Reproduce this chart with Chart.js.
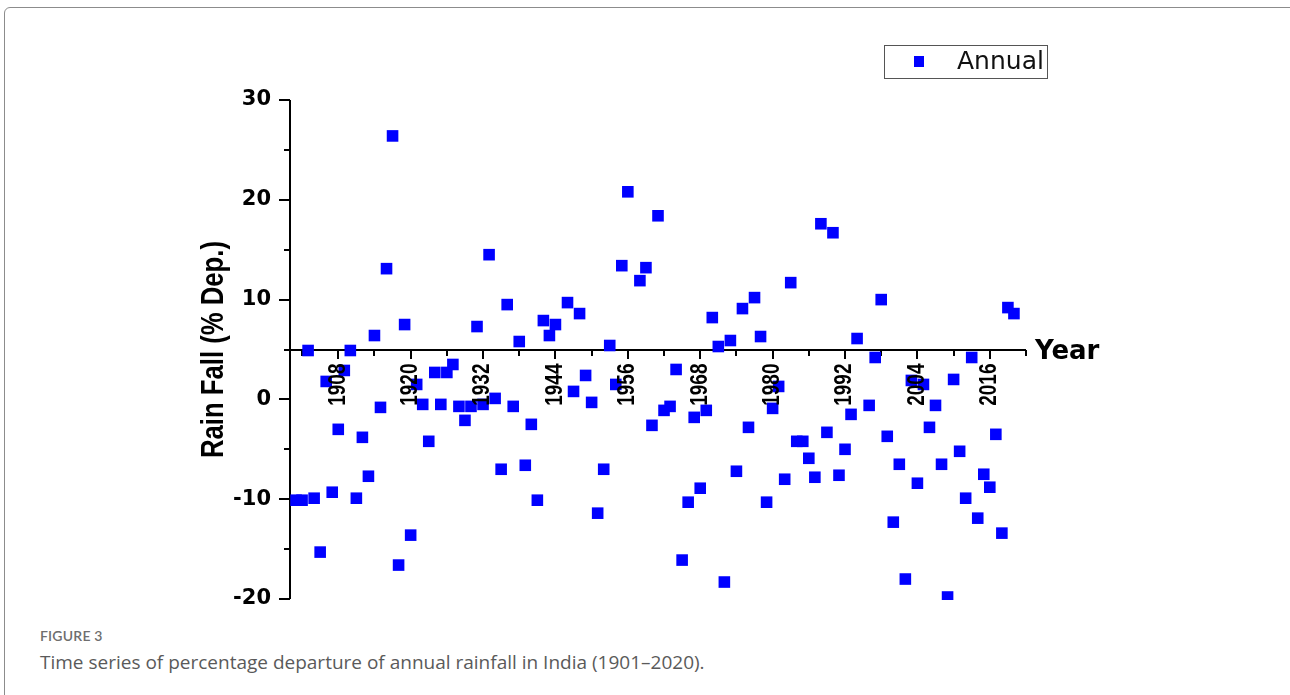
<!DOCTYPE html>
<html>
<head>
<meta charset="utf-8">
<title>Annual rainfall departure, India 1901–2020</title>
<script src="https://cdn.jsdelivr.net/npm/chart.js@4.4.1/dist/chart.umd.min.js"></script>
<style>
  html, body { margin: 0; padding: 0; background: #fff; width: 1290px; height: 695px; overflow: hidden; }
  .frame { position: absolute; left: 4px; top: 7px; width: 1400px; height: 800px;
           border: 1px solid #8c8c8c; border-radius: 6px; box-sizing: border-box; }
  #wrap { position: absolute; left: 0; top: 0; width: 1290px; height: 615px; }
  .fig-label { position: absolute; left: 40px; top: 627px; font: 600 14px Lato, "Open Sans", sans-serif;
               color: #6e6e6e; letter-spacing: 0.2px; }
  .fig-caption { position: absolute; left: 40px; top: 649px; font: 400 19px "Open Sans", Lato, sans-serif;
                 color: #5a5a5a; }
</style>
</head>
<body>
<div class="frame"></div>
<div id="wrap"><canvas id="rain"></canvas></div>
<div class="fig-label">FIGURE 3</div>
<div class="fig-caption">Time series of percentage departure of annual rainfall in India (1901–2020).</div>

<script>
// Years plotted (a few years have no mark on the plot)
const years = [
  1901, 1902, 1903, 1904, 1905, 1906, 1907, 1908, 1909, 1910,
  1911, 1912, 1913, 1914, 1915, 1916, 1917, 1918, 1919, 1920,
  1921, 1922, 1923, 1924, 1925, 1926, 1927, 1928, 1929, 1930,
  1931, 1932, 1933, 1934, 1935, 1936, 1937, 1938, 1939, 1940,
  1941, 1942, 1943, 1944, 1946, 1947, 1948, 1949, 1950,
  1951, 1952, 1953, 1954, 1955, 1956, 1958, 1959, 1960,
  1961, 1962, 1963, 1964, 1965, 1966, 1967, 1968, 1969, 1970,
  1971, 1972, 1973, 1974, 1975, 1976, 1977, 1978, 1979, 1980,
  1981, 1982, 1983, 1984, 1985, 1986, 1987, 1988, 1989, 1990,
  1991, 1992, 1993, 1994, 1996, 1997, 1998, 1999, 2000,
  2001, 2002, 2003, 2004, 2005, 2006, 2007, 2008, 2009, 2010,
  2011, 2012, 2013, 2014, 2015, 2016, 2017, 2018, 2019, 2020
];

// Annual rainfall, % departure from normal
const annualDeparture = [
  -10.1, -10.1,  4.9,  -9.9, -15.3,  1.8,  -9.3,  -3.0,   2.9,   4.9,
   -9.9,  -3.8, -7.7,   6.4,  -0.8, 13.1,  26.4, -16.6,   7.5, -13.6,
    1.5,  -0.5, -4.2,   2.7,  -0.5,  2.7,   3.5,  -0.7,  -2.1,  -0.7,
    7.3,  -0.5, 14.5,   0.1,  -7.0,  9.5,  -0.7,   5.8,  -6.6,  -2.5,
  -10.1,   7.9,  6.4,   7.5,   9.7,  0.8,   8.6,   2.4,  -0.3,
  -11.4,  -7.0,  5.4,   1.5,  13.4, 20.8,  11.9,  13.2,  -2.6,
   18.4,  -1.1, -0.7,   3.0, -16.1, -10.3, -1.8,  -8.9,  -1.1,   8.2,
    5.3, -18.3,  5.9,  -7.2,   9.1,  -2.8, 10.2,   6.3, -10.3,  -0.9,
    1.3,  -8.0, 11.7,  -4.2,  -4.2,  -5.9, -7.8,  17.6,  -3.3,  16.7,
   -7.6,  -5.0, -1.5,   6.1,  -0.6,   4.2, 10.0,  -3.7, -12.3,
   -6.5, -18.0,  1.9,  -8.4,   1.5,  -2.8, -0.6,  -6.5, -19.8,   2.0,
   -5.2,  -9.9,  4.2, -11.9,  -7.5,  -8.8, -3.5, -13.4,   9.2,   8.6
];

// Axis ticks and labels
const xTickYears  = [1902, 1908, 1914, 1920, 1926, 1932, 1938, 1944, 1950, 1956, 1962,
                     1968, 1974, 1980, 1986, 1992, 1998, 2004, 2010, 2016, 2022];
const xLabelYears = [1908, 1920, 1932, 1944, 1956, 1968, 1980, 1992, 2004, 2016];
const yLabelValues = [-20, -10, 0, 10, 20, 30];
const xAxisCrossing = 5;   // the year axis crosses the value axis here

const seriesName = 'Annual';
const markColor = '#0000ff';
const boldSans = '"Liberation Sans", Arial, sans-serif';
const wideFont = '"DejaVu Sans", sans-serif';
const glyphWiden = 1.22;   // rotated texts use slightly widened glyphs

// Axis lines, tick marks, year labels, axis names and the boxed key
const axesAndKey = {
  id: 'axesAndKey',
  beforeDatasetsDraw(chart) {
    const { ctx, chartArea: a, scales: { x, y } } = chart;
    ctx.save();
    ctx.strokeStyle = '#000';
    ctx.lineWidth = 2;
    ctx.beginPath();
    // value axis
    ctx.moveTo(a.left, a.top);
    ctx.lineTo(a.left, a.bottom);
    for (const t of y.ticks) {
      const py = Math.round(y.getPixelForValue(t.value));
      const len = yLabelValues.includes(t.value) ? 11 : 6;
      ctx.moveTo(a.left, py);
      ctx.lineTo(a.left - len, py);
    }
    // year axis
    const pY = Math.round(y.getPixelForValue(xAxisCrossing));
    ctx.moveTo(a.left, pY);
    ctx.lineTo(a.right, pY);
    for (const v of xTickYears) {
      const px = Math.round(x.getPixelForValue(v));
      const len = xLabelYears.includes(v) ? 9 : 6;
      ctx.moveTo(px, pY);
      ctx.lineTo(px, pY + len);
    }
    ctx.stroke();
    ctx.restore();
  },
  afterDraw(chart) {
    const { ctx, chartArea: a, scales: { x, y } } = chart;
    const pY = y.getPixelForValue(xAxisCrossing);
    ctx.save();
    ctx.fillStyle = '#000';

    // year labels, reading upwards, hanging below the axis
    ctx.font = 'bold 19px ' + boldSans;
    ctx.textAlign = 'right';
    ctx.textBaseline = 'middle';
    for (const v of xLabelYears) {
      ctx.save();
      ctx.translate(x.getPixelForValue(v), pY + 14);
      ctx.rotate(-Math.PI / 2);
      ctx.scale(1, glyphWiden);
      ctx.fillText(String(v), 0, 0);
      ctx.restore();
    }

    // year axis name at the end of the axis line
    ctx.font = 'bold 26px ' + wideFont;
    ctx.textAlign = 'left';
    ctx.fillText('Year', a.right + 9, pY + 3);

    // value axis name
    ctx.save();
    ctx.translate(214, (a.top + a.bottom) / 2);
    ctx.rotate(-Math.PI / 2);
    ctx.scale(1, glyphWiden);
    ctx.textAlign = 'center';
    ctx.font = 'bold 25.7px ' + boldSans;
    ctx.fillText('Rain Fall (% Dep.)', 0, 0);
    ctx.restore();

    // key box
    ctx.strokeStyle = '#555';
    ctx.lineWidth = 1;
    ctx.strokeRect(884.5, 45.5, 163, 33);
    ctx.fillStyle = markColor;
    ctx.fillRect(914, 56, 10, 11);
    ctx.fillStyle = '#111';
    ctx.font = '25px ' + wideFont;
    ctx.textAlign = 'left';
    ctx.textBaseline = 'middle';
    ctx.fillText(chart.data.datasets[0].label, 957, 62);
    ctx.restore();
  }
};

new Chart(document.getElementById('rain'), {
  type: 'scatter',
  data: {
    datasets: [{
      label: seriesName,
      data: years.map((yr, i) => ({ x: yr, y: annualDeparture[i] })),
      pointStyle: 'rect',
      pointRadius: 8.2,
      pointHoverRadius: 8.2,
      backgroundColor: markColor,
      borderWidth: 0,
      clip: { left: 10, top: 10, right: 10, bottom: 1 }
    }]
  },
  options: {
    responsive: true,
    maintainAspectRatio: false,
    animation: false,
    events: [],
    layout: { padding: { left: 0, top: 100, right: 264, bottom: 16 } },
    plugins: { legend: { display: false }, tooltip: { enabled: false } },
    scales: {
      x: {
        type: 'linear',
        min: 1900,
        max: 2022,
        position: { y: xAxisCrossing },
        afterBuildTicks: s => { s.ticks = xTickYears.map(v => ({ value: v })); },
        afterFit: s => {
          // the axis sits inside the plot, so it takes no room of its own
          s.height = 0;
          s.paddingTop = 0; s.paddingBottom = 0; s.paddingLeft = 0; s.paddingRight = 0;
        },
        grid: { display: false, drawTicks: false },
        border: { display: false },
        ticks: { display: false }
      },
      y: {
        min: -20,
        max: 30,
        afterFit: s => { s.width = 290; s.paddingTop = 0; s.paddingBottom = 0; },
        grid: { display: false, drawTicks: false },
        border: { display: false },
        ticks: {
          stepSize: 5,
          padding: 19,
          color: '#000',
          font: { family: wideFont, size: 21, weight: 'bold' },
          callback: v => (yLabelValues.includes(v) ? String(v) : '')
        }
      }
    }
  },
  plugins: [axesAndKey]
});
</script>
</body>
</html>
